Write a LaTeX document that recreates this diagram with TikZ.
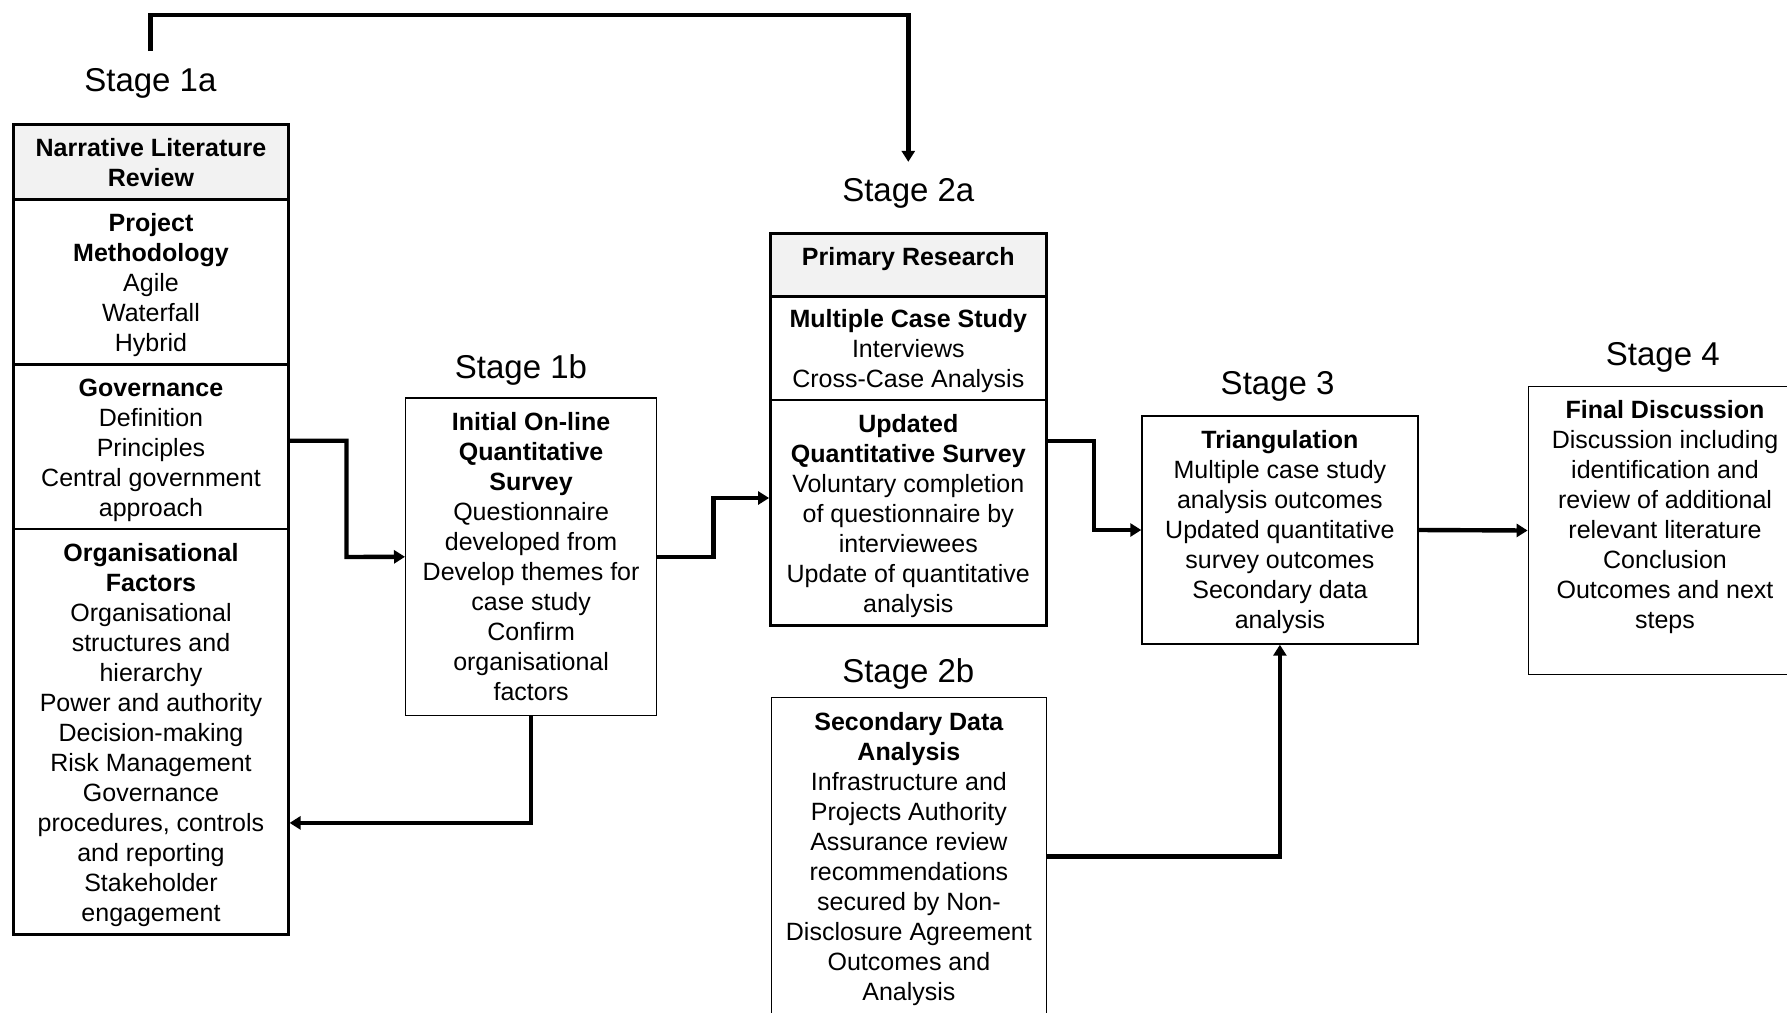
\documentclass[tikz,border=0pt]{standalone}
\usepackage{fontspec}
\setmainfont{Liberation Sans}
\usetikzlibrary{arrows.meta}
\definecolor{hdr}{HTML}{F2F2F2}
\tikzset{
  body/.style={font=\fontsize{12.5pt}{15pt}\selectfont, align=center, inner sep=0pt},
  thick box/.style={draw, line width=1.3pt, inner sep=0pt},
  thin box/.style={draw, line width=0.7pt, inner sep=0pt},
  stagelab/.style={font=\fontsize{16.5pt}{19pt}\selectfont, inner sep=0pt},
  txt/.style={body},
  arr/.style={line width=2.2pt, -{Triangle[length=5.5pt,width=6.5pt]}}
}
\begin{document}
\begin{tikzpicture}[x=0.5pt,y=-0.5pt]
\useasboundingbox (0,0) rectangle (1787,1012);
\clip (0,0) rectangle (1787,1012);

% Stage labels
\node[stagelab] (lab1a) at (150.4,83.4) {Stage 1a};
\node[stagelab] (lab1b) at (521,370.4) {Stage 1b};
\node[stagelab] (lab2a) at (908.3,193.4) {Stage 2a};
\node[stagelab] (lab2b) at (908.3,674.4) {Stage 2b};
\node[stagelab] (lab3) at (1277.6,386.4) {Stage 3};
\node[stagelab] (lab4) at (1662.8,357.8) {Stage 4};

% Stage 1a column
\node[thick box, fill=hdr, minimum width=137.3pt, minimum height=37.6pt] (lh) at (151,161.8) {};
\node[txt] (lht) at ([yshift=-0.2pt]lh.center) {\textbf{Narrative Literature}\\\textbf{Review}};
\node[thick box, minimum width=137.3pt, minimum height=82.65pt] (lpm) at (151,282.05) {};
\node[txt] (lpmt) at ([yshift=-1.7pt]lpm.center) {\textbf{Project}\\\textbf{Methodology}\\Agile\\Waterfall\\Hybrid};
\node[thick box, minimum width=137.3pt, minimum height=82.05pt] (lgov) at (151,446.75) {};
\node[txt] (lgovt) at ([yshift=-1.7pt]lgov.center) {\textbf{Governance}\\Definition\\Principles\\Central government\\approach};
\node[thick box, minimum width=137.3pt, minimum height=202.9pt] (lorg) at (151,731.7) {};
\node[txt] (lorgt) at ([yshift=-1.7pt]lorg.center) {\textbf{Organisational}\\\textbf{Factors}\\Organisational\\structures and\\hierarchy\\Power and authority\\Decision-making\\Risk Management\\Governance\\procedures, controls\\and reporting\\Stakeholder\\engagement};

% Stage 1b
\node[thin box, minimum width=125.4pt, minimum height=158.95pt] (b1b) at (531.1,556.8) {};
\node[txt] (b1bt) at ([yshift=0.1pt]b1b.center) {\textbf{Initial On-line}\\\textbf{Quantitative}\\\textbf{Survey}\\Questionnaire\\developed from\\Develop themes for\\case study\\Confirm\\organisational\\factors};

% Stage 2a
\node[thick box, fill=hdr, minimum width=137.9pt, minimum height=31.35pt] (p2h) at (908.3,265) {};
\node[txt] (p2ht) at (908.3,259.5) {\textbf{Primary Research}};
\node[thick box, minimum width=137.9pt, minimum height=51.85pt] (mcs) at (908.3,348.2) {};
\node[txt] (mcst) at ([yshift=-1.5pt]mcs.center) {\textbf{Multiple Case Study}\\Interviews\\Cross-Case Analysis};
\node[thick box, minimum width=137.9pt, minimum height=112.85pt] (uqs) at (908.3,512.9) {};
\node[txt] (uqst) at ([yshift=-1.7pt]uqs.center) {\textbf{Updated}\\\textbf{Quantitative Survey}\\Voluntary completion\\of questionnaire by\\interviewees\\Update of quantitative\\analysis};

% Stage 2b
\node[thin box, minimum width=137.3pt, minimum height=159pt] (b2b) at (908.9,856.5) {};
\node[txt] (b2bt) at ([yshift=-1.5pt]b2b.center) {\textbf{Secondary Data}\\\textbf{Analysis}\\Infrastructure and\\Projects Authority\\Assurance review\\recommendations\\secured by Non-\\Disclosure Agreement\\Outcomes and\\Analysis};

% Stage 3
\node[thin box, minimum width=137.9pt, minimum height=114pt] (b3) at (1279.9,530) {};
\node[txt] (b3t) at ([yshift=-0.8pt]b3.center) {\textbf{Triangulation}\\Multiple case study\\analysis outcomes\\Updated quantitative\\survey outcomes\\Secondary data\\analysis};

% Stage 4
\node[thin box, minimum width=136.7pt, minimum height=144.15pt] (b4) at (1665,530.5) {};
\node[txt] (b4t) at (1665,517.5)
  {\textbf{Final Discussion}\\Discussion including\\identification and\\review of additional\\relevant literature\\Conclusion\\Outcomes and next\\steps};

% Connectors
\draw[arr] ([yshift=8.5pt]lab1a.north) |- (908.3,14.8) -- ([yshift=8.1pt]lab2a.north);
\draw[arr] ([yshift=3pt]lgov.east) -| (346.5,557) -- (b1b.west);
\draw[arr] (b1b.south) |- ([yshift=-45.6pt]lorg.east);
\draw[arr] (b1b.east) -| (713.5,498) -- ([yshift=7.45pt]uqs.west);
\draw[arr] ([yshift=36pt]uqs.east) -| (1094,530) -- (b3.west);
\draw[arr] (b2b.east) -| (b3.south);
\draw[arr] (b3.east) -- (b4.west);
\end{tikzpicture}
\end{document}
